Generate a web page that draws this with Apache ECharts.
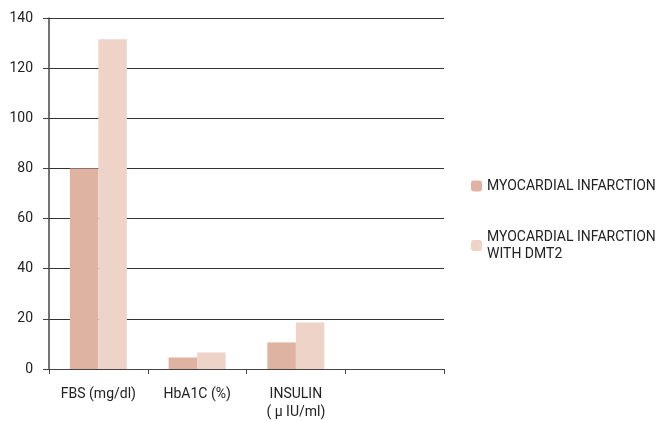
<!DOCTYPE html>
<html>
<head>
<meta charset="utf-8">
<script src="https://cdn.jsdelivr.net/npm/echarts@6/dist/echarts.min.js"></script>
<style>html,body{margin:0;padding:0;background:#fff}#c{width:656px;height:421px}</style>
</head>
<body>
<div id="c"></div>
<script>
const categories = ['FBS (mg/dl)', 'HbA1C (%)', 'INSULIN\n( µ IU/ml)', ''];
const seriesNames = ['MYOCARDIAL INFARCTION', 'MYOCARDIAL INFARCTION WITH DMT2'];
const miValues = [80, 4.6, 10.6, null];
const miDmt2Values = [131.5, 6.6, 18.5, null];
const yTicks = { min: 0, max: 140, interval: 20 };

const font = '"Roboto", "Liberation Sans", sans-serif';
const textColor = '#222';
const chart = echarts.init(document.getElementById('c'));
chart.setOption({
  animation: false,
  grid: { left: 49, right: 212, top: 18, bottom: 50, containLabel: false },
  legend: [
    {
      data: [seriesNames[0]],
      orient: 'vertical', left: 466, top: 174,
      itemWidth: 11, itemHeight: 11, itemGap: 0,
      textStyle: { fontFamily: font, fontSize: 14, color: textColor }
    },
    {
      data: [seriesNames[1]],
      orient: 'vertical', left: 466, top: 215,
      itemWidth: 11, itemHeight: 11, itemGap: 0,
      formatter: function (n) { return n.replace(' WITH', '\nWITH'); },
      textStyle: { fontFamily: font, fontSize: 14, color: textColor, lineHeight: 17, padding: [17, 0, 0, 0] }
    }
  ],
  xAxis: {
    type: 'category',
    data: categories,
    axisLine: { lineStyle: { color: '#444', width: 1 } },
    axisTick: { show: true, length: 5, lineStyle: { color: '#444' } },
    axisLabel: { fontFamily: font, fontSize: 14, color: textColor, margin: 16, lineHeight: 18, interval: 0 }
  },
  yAxis: {
    type: 'value',
    min: yTicks.min, max: yTicks.max, interval: yTicks.interval,
    axisLine: { show: true, lineStyle: { color: '#444', width: 1.5 } },
    axisTick: { show: true, length: 6, lineStyle: { color: '#444' } },
    axisLabel: { fontFamily: font, fontSize: 14, color: textColor, margin: 16 },
    splitLine: { lineStyle: { color: '#333', width: 1 } }
  },
  series: [
    { name: seriesNames[0], type: 'bar', data: miValues, barWidth: 28.5, barGap: '0%',
      itemStyle: { color: '#dfb3a2' } },
    { name: seriesNames[1], type: 'bar', data: miDmt2Values, barWidth: 28.5, barGap: '0%',
      itemStyle: { color: '#edd3c8' } }
  ]
});
</script>
</body>
</html>
